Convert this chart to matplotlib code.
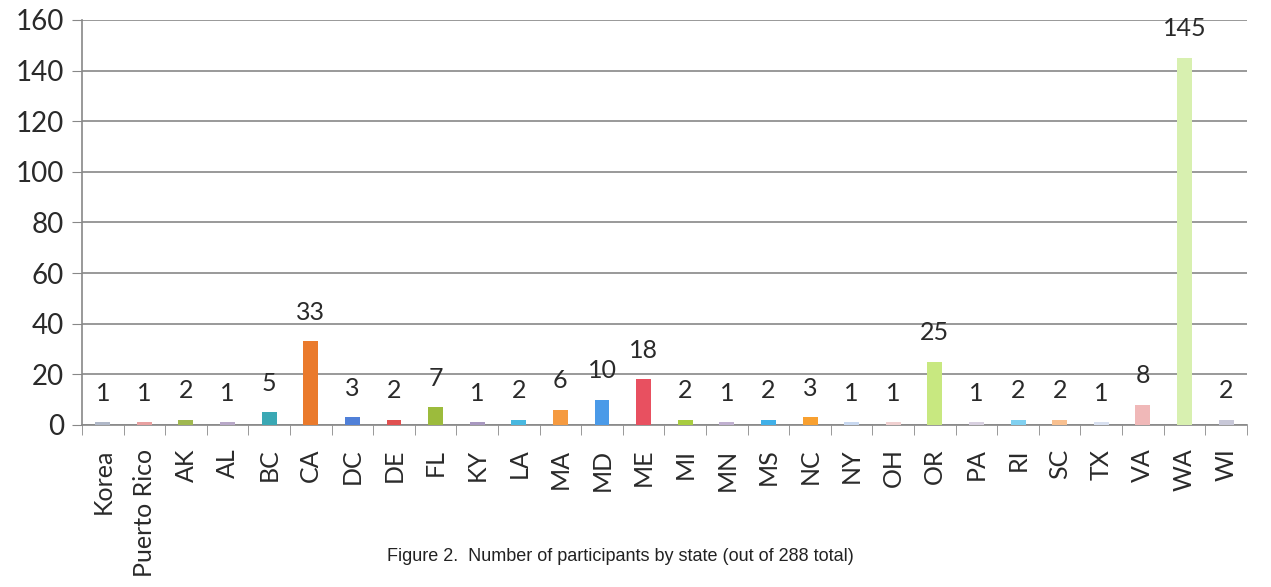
import matplotlib.pyplot as plt
import numpy as np

states = ['Korea', 'Puerto Rico', 'AK', 'AL', 'BC', 'CA', 'DC', 'DE', 'FL', 'KY',
          'LA', 'MA', 'MD', 'ME', 'MI', 'MN', 'MS', 'NC', 'NY', 'OH', 'OR', 'PA',
          'RI', 'SC', 'TX', 'VA', 'WA', 'WI']
counts = [1, 1, 2, 1, 5, 33, 3, 2, 7, 1, 2, 6, 10, 18, 2, 1, 2, 3, 1, 1, 25, 1,
          2, 2, 1, 8, 145, 2]
colors = ['#b0b8c8', '#e8a0a0', '#a0b850', '#b8a8c8', '#3aa8b4', '#ea7a2c',
          '#5080d8', '#e05050', '#9cbb3c', '#a898c0', '#48b8e0', '#f59a40',
          '#4a9ae8', '#e85060', '#a8cc40', '#c0b0d0', '#40b0e8', '#f8a030',
          '#c8d8f0', '#f0d0d0', '#c8e880', '#d8d0e0', '#80d0f0', '#f8c090',
          '#d8e0f0', '#f0b8b8', '#d8f0b0', '#c8c8d8']

plt.rcParams['font.family'] = ['Lato', 'DejaVu Sans']

fig = plt.figure(figsize=(12.71, 5.87), dpi=100)
ax = fig.add_axes([0.0645, 0.276, 0.9165, 0.69])

x = np.arange(len(states))
ax.bar(x, counts, width=0.36, color=colors, zorder=3)
for xi, v in zip(x, counts):
    ax.annotate(str(v), (xi, v), xytext=(0, 21), textcoords='offset points',
                ha='center', va='center', fontsize=18, color='#2a2a2a')

ax.set_xlim(-0.5, len(states) - 0.5)
ax.set_ylim(0, 160)
ax.set_yticks(range(0, 161, 20))
ax.yaxis.grid(True, color='#888888', linewidth=1.2, zorder=0)
ax.set_xticks(x)
ax.set_xticklabels(states, rotation=90, fontsize=18, color='#2a2a2a')
ax.set_xticks(np.arange(-0.5, len(states)), minor=True)
ax.tick_params(axis='x', which='major', length=0, pad=17)
ax.tick_params(axis='x', which='minor', length=7, color='#888888')
ax.tick_params(axis='y', labelsize=20, labelcolor='#2a2a2a', length=7,
               color='#888888', pad=6)
for s in ['top', 'right']:
    ax.spines[s].set_visible(False)
for s in ['left', 'bottom']:
    ax.spines[s].set_color('#888888')
    ax.spines[s].set_linewidth(1.2)

fig.text(0.488, 0.052, 'Figure 2.  Number of participants by state (out of 288 total)',
         ha='center', va='center', fontsize=13,
         family=['Liberation Sans', 'DejaVu Sans'], color='#222222')

fig.savefig('out.png', dpi=100)
